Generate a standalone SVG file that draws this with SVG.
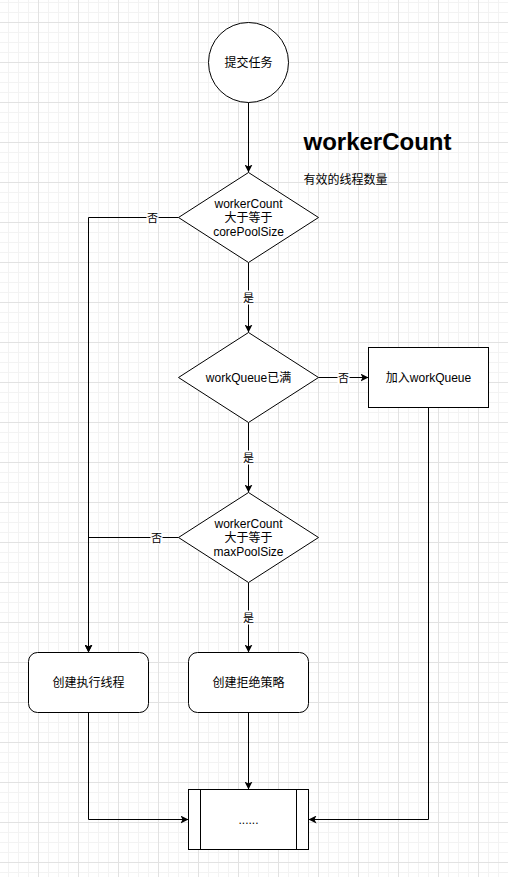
<svg xmlns="http://www.w3.org/2000/svg" width="508" height="877" viewBox="0 0 508 877">
<style>
.shape{fill:#fff;stroke:#000;stroke-width:1}
.edge{fill:none;stroke:#000;stroke-width:1}
.t{font-family:"Liberation Sans","Noto Sans CJK SC",sans-serif;font-size:12px;fill:#000;text-anchor:middle}
.lbl{font-family:"Liberation Sans","Noto Sans CJK SC",sans-serif;font-size:11px;fill:#000;text-anchor:middle}
.lbg{fill:#fff;stroke:none}
</style>
<defs>
<pattern id="grid" patternUnits="userSpaceOnUse" x="38" y="22" width="40" height="40">
<path d="M10.5 0V40M20.5 0V40M30.5 0V40M0 10.5H40M0 20.5H40M0 30.5H40" stroke="#f3f3f3" stroke-width="1" fill="none"/>
<path d="M0.5 0V40M0 0.5H40" stroke="#e2e2e2" stroke-width="1" fill="none"/>
</pattern>
<marker id="arr" markerUnits="userSpaceOnUse" viewBox="0 0 8 8" markerWidth="8" markerHeight="8" refX="8" refY="4" orient="auto">
<path d="M0 0L8 4L0 8L2 4Z" fill="#000"/>
</marker>
</defs>
<rect x="0" y="0" width="508" height="877" fill="#fff"/>
<rect x="0" y="0" width="508" height="877" fill="url(#grid)"/>
<g transform="translate(0.5,0.5)">
<g id="connectors">
<path class="edge" d="M248 102V172" marker-end="url(#arr)"/>
<path class="edge" d="M248 262V332" marker-end="url(#arr)"/>
<path class="edge" d="M318 377H368" marker-end="url(#arr)"/>
<path class="edge" d="M248 422V492" marker-end="url(#arr)"/>
<path class="edge" d="M178 217H88V652" marker-end="url(#arr)"/>
<path class="edge" d="M178 537H88V652" marker-end="url(#arr)"/>
<path class="edge" d="M248 582V652" marker-end="url(#arr)"/>
<path class="edge" d="M88 712V819H188" marker-end="url(#arr)"/>
<path class="edge" d="M248 712V789" marker-end="url(#arr)"/>
<path class="edge" d="M428 407V819H308" marker-end="url(#arr)"/>
<rect class="lbg" x="242" y="290" width="12" height="14"/>
<text class="lbl" x="248" y="301">是</text>
<rect class="lbg" x="337" y="370" width="12" height="14"/>
<text class="lbl" x="343" y="381">否</text>
<rect class="lbg" x="242" y="450" width="12" height="14"/>
<text class="lbl" x="248" y="461">是</text>
<rect class="lbg" x="146" y="210" width="12" height="14"/>
<text class="lbl" x="152" y="221">否</text>
<rect class="lbg" x="150" y="530" width="12" height="14"/>
<text class="lbl" x="156" y="541">否</text>
<rect class="lbg" x="242" y="610" width="12" height="14"/>
<text class="lbl" x="248" y="621">是</text>
</g>
<g id="start">
<circle class="shape" cx="248" cy="62" r="40"/>
<text class="t" x="248" y="66">提交任务</text>
</g>
<g id="title">
<text x="303" y="149" style="font-family:'Liberation Sans',sans-serif;font-size:24px;font-weight:bold;fill:#000">workerCount</text>
<text x="303" y="183" style="font-family:'Liberation Sans','Noto Sans CJK SC',sans-serif;font-size:12px;fill:#000">有效的线程数量</text>
</g>
<g id="decision1">
<polygon class="shape" points="248,172 318,217 248,262 178,217"/>
<text class="t" x="248" y="207">workerCount</text>
<text class="t" x="248" y="221">大于等于</text>
<text class="t" x="248" y="235">corePoolSize</text>
</g>
<g id="decision2">
<polygon class="shape" points="248,332 318,377 248,422 178,377"/>
<text class="t" x="248" y="381">workQueue已满</text>
</g>
<g id="enqueue">
<rect class="shape" x="368" y="347" width="120" height="60"/>
<text class="t" x="428" y="381">加入workQueue</text>
</g>
<g id="decision3">
<polygon class="shape" points="248,492 318,537 248,582 178,537"/>
<text class="t" x="248" y="527">workerCount</text>
<text class="t" x="248" y="541">大于等于</text>
<text class="t" x="248" y="555">maxPoolSize</text>
</g>
<g id="createThread">
<rect class="shape" x="28" y="652" width="120" height="60" rx="9" ry="9"/>
<text class="t" x="88" y="686">创建执行线程</text>
</g>
<g id="reject">
<rect class="shape" x="188" y="652" width="120" height="60" rx="9" ry="9"/>
<text class="t" x="248" y="686">创建拒绝策略</text>
</g>
<g id="process">
<rect class="shape" x="188" y="789" width="120" height="60"/>
<path class="edge" d="M200 789V849M296 789V849"/>
<text class="t" x="248" y="823">......</text>
</g>
</g>
</svg>
